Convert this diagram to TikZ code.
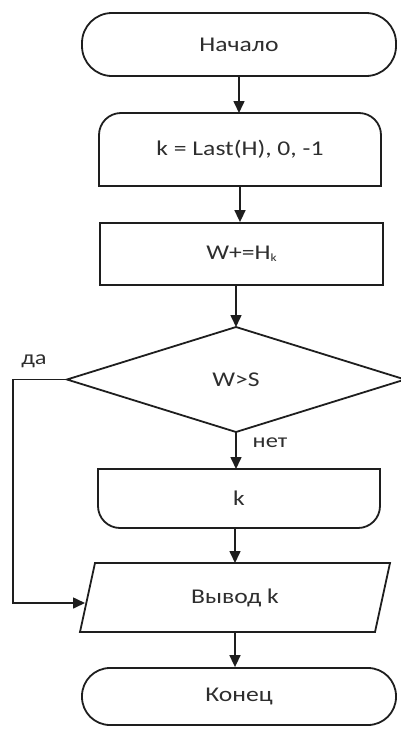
\documentclass[tikz,border=0pt]{standalone}
\usepackage{fontspec}
\setmainfont{Carlito}[FakeStretch=1.22]
\usetikzlibrary{arrows.meta,calc}
\definecolor{ink}{HTML}{1E1E1E}
\definecolor{txt}{HTML}{2E2E2E}
\begin{document}
\begin{tikzpicture}[x=1pt,y=1pt,
  every node/.style={font=\fontsize{21}{24}\selectfont, text=txt},
  shapeline/.style={draw=ink, line width=1.8pt},
  ghost/.style={inner sep=0pt, outer sep=0pt, draw=none},
  arr/.style={draw=ink, line width=1.6pt, -{Triangle[length=12pt,width=11pt]}},
  lbl/.style={font=\fontsize{20}{22}\selectfont, text=txt}]
\useasboundingbox (0,0) rectangle (401,-734);

% start terminal
\node[shapeline, rounded corners=30pt, minimum width=314pt, minimum height=63pt, inner sep=0pt]
  (start) at (239,-44.5) {Начало};

% loop header: rounded top corners
\node[ghost, minimum width=282pt, minimum height=73pt] (loopA) at (240,-149.5) {k = Last(H), 0, -1};
\draw[shapeline] (loopA.south west) -- ([yshift=-22pt]loopA.north west)
  arc[start angle=180, end angle=90, radius=22pt]
  -- ([xshift=-22pt]loopA.north east)
  arc[start angle=90, end angle=0, radius=22pt]
  -- (loopA.south east) -- cycle;

% process
\node[shapeline, minimum width=283pt, minimum height=62pt, inner sep=0pt]
  (proc) at (241.5,-254) {W+=H\raisebox{-2pt}{\fontsize{11}{12}\selectfont k}};

% decision
\node[ghost, minimum width=338pt, minimum height=105pt] (dec) at (236,-379.5) {W>S};
\draw[shapeline] (dec.north) -- (dec.east) -- (dec.south) -- (dec.west) -- cycle;

% loop end: rounded bottom corners
\node[ghost, minimum width=282pt, minimum height=59pt] (loopB) at (239,-498.5) {k};
\draw[shapeline] (loopB.north west) -- ([yshift=22pt]loopB.south west)
  arc[start angle=180, end angle=270, radius=22pt]
  -- ([xshift=-22pt]loopB.south east)
  arc[start angle=270, end angle=360, radius=22pt]
  -- (loopB.north east) -- cycle;

% output parallelogram
\node[ghost, minimum width=295pt, minimum height=69pt] (out) at (235,-597.5) {Вывод k};
\draw[shapeline] ([xshift=7.5pt]out.north west) -- ([xshift=7.5pt]out.north east)
  -- ([xshift=-7.5pt]out.south east) -- ([xshift=-7.5pt]out.south west) -- cycle;
\coordinate (outin) at (85,-603);

% end terminal
\node[shapeline, rounded corners=28pt, minimum width=314pt, minimum height=57pt, inner sep=0pt]
  (stop) at (239,-696.5) {Конец};

% connectors
\draw[arr] (start.south) -- (start.south |- loopA.north);
\draw[arr] (loopA.south) -- (loopA.south |- proc.north);
\draw[arr] (proc.south -| dec.north) -- (dec.north);
\draw[arr] (dec.south) -- (dec.south |- loopB.north);
\draw[arr] (loopB.south -| out.north) -- (out.north);
\draw[arr] (out.south) -- (out.south |- stop.north);
\draw[arr] (dec.west) -- ++(-54,0) |- (outin);

% branch labels
\node[lbl] (yes) at (34,-361) {да};
\node[lbl] (no) at (270,-443) {нет};
\end{tikzpicture}
\end{document}
